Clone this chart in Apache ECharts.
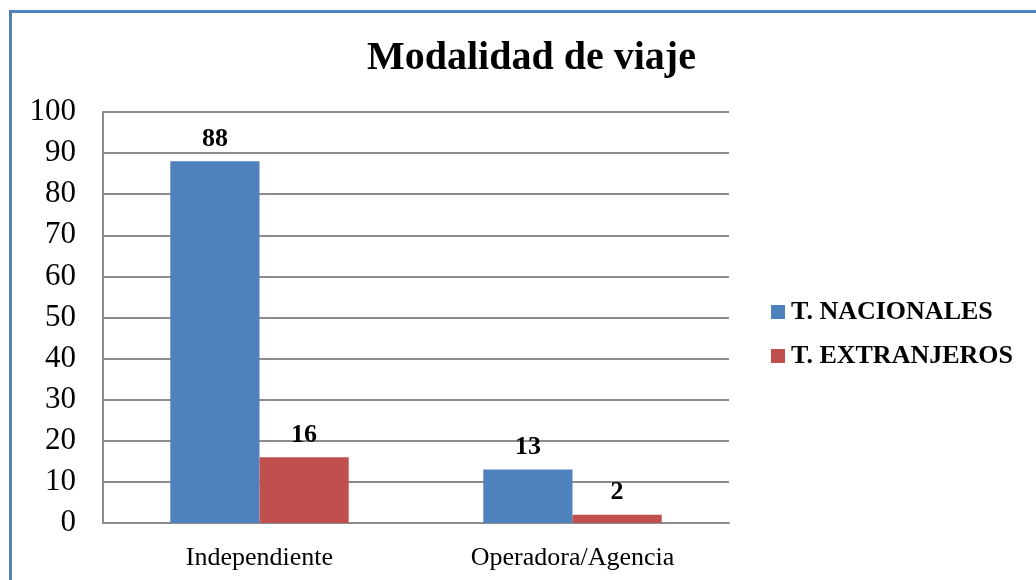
<!DOCTYPE html>
<html>
<head>
<meta charset="utf-8">
<style>
  html, body { margin: 0; padding: 0; background: #fff; }
  #chart { width: 1036px; height: 580px; }
</style>
<script src="https://cdn.jsdelivr.net/npm/echarts@6/dist/echarts.min.js"></script>
</head>
<body>
<div id="chart"></div>
<script>
// datos
var categorias = ['Independiente', 'Operadora/Agencia'];
var nacionales = [88, 13];
var extranjeros = [16, 2];
var ejeY = [0, 10, 20, 30, 40, 50, 60, 70, 80, 90, 100];

var serif = '"Liberation Serif", "DejaVu Serif", serif';
var myChart = echarts.init(document.getElementById('chart'));

var etiqueta = {
    show: true,
    position: 'top',
    distance: 9,
    color: '#000',
    fontFamily: serif,
    fontWeight: 'bold',
    fontSize: 26
};

var option = {
    backgroundColor: '#fff',
    animation: false,
    title: {
        text: 'Modalidad de viaje',
        left: 362,
        top: 34,
        textStyle: { fontFamily: serif, fontWeight: 'bold', fontSize: 40, color: '#000' }
    },
    legend: {
        orient: 'vertical',
        left: 766,
        top: 294,
        itemWidth: 14,
        itemHeight: 14,
        itemGap: 18,
        icon: 'rect',
        textStyle: { fontFamily: serif, fontWeight: 'bold', fontSize: 26, color: '#000', padding: [0, 0, 0, 1] },
        data: ['T. NACIONALES', 'T. EXTRANJEROS']
    },
    grid: { left: 103, right: 307, top: 112, bottom: 57, containLabel: false },
    xAxis: {
        type: 'category',
        data: categorias,
        axisLine: { lineStyle: { color: '#8c8c8c', width: 2 } },
        axisTick: { show: false },
        axisLabel: { fontFamily: serif, fontSize: 26, color: '#000', margin: 22 }
    },
    yAxis: {
        type: 'value',
        min: ejeY[0],
        max: ejeY[ejeY.length - 1],
        interval: 10,
        axisLine: { show: true, lineStyle: { color: '#8c8c8c', width: 2 } },
        axisTick: { show: false },
        axisLabel: { fontFamily: serif, fontSize: 31, color: '#000', margin: 27 },
        splitLine: { lineStyle: { color: '#8c8c8c', width: 2 } }
    },
    series: [{
        name: 'T. NACIONALES',
        type: 'bar',
        data: nacionales,
        color: '#4f81bd',
        barGap: '0%',
        barCategoryGap: '43%',
        label: etiqueta
    }, {
        name: 'T. EXTRANJEROS',
        type: 'bar',
        data: extranjeros,
        color: '#c0504d',
        label: etiqueta
    }],
    graphic: [{
        type: 'rect',
        silent: true,
        shape: { x: 10.5, y: 11.5, width: 2000, height: 2000 },
        style: { fill: 'none', stroke: '#4f81bd', lineWidth: 3 }
    }]
};
myChart.setOption(option);
</script>
</body>
</html>
